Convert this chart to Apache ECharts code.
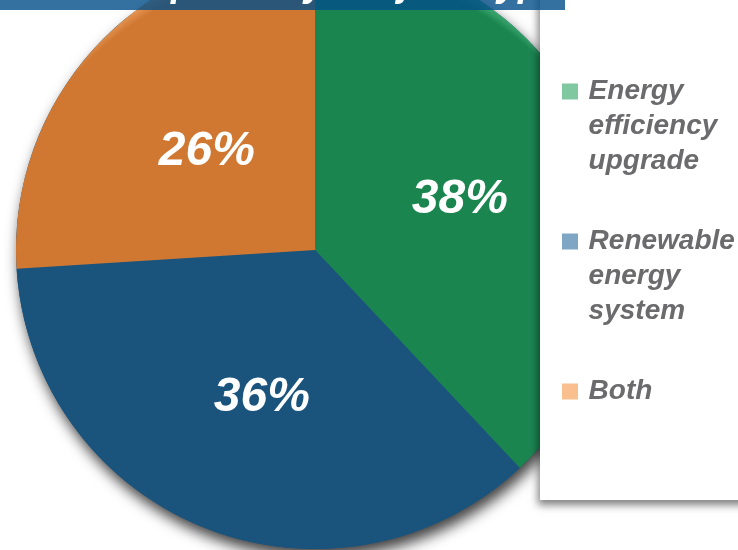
<!DOCTYPE html>
<html>
<head>
<meta charset="utf-8">
<script src="https://cdn.jsdelivr.net/npm/echarts@6/dist/echarts.min.js"></script>
<style>
  html, body { margin: 0; padding: 0; background: #fff; }
  #chart { width: 738px; height: 550px; }
</style>
</head>
<body>
<div id="chart"></div>
<script>
// data
const titleText = 'Grant Uptake by Project Type'
const categories = ['Energy efficiency upgrade', 'Renewable energy system', 'Both']
const legendLines = [['Energy', 'efficiency', 'upgrade'], ['Renewable', 'energy', 'system'], ['Both']]
const shares = [38, 36, 26]
const sliceColors = ['#1b8550', '#1a537c', '#d07832']
const rimColors = ['#58c288', '#1a537c', '#f7ab6c']
const legendColors = ['#80c8a0', '#7fa6c4', '#f9bf8f']

const chart = echarts.init(document.getElementById('chart'))

const cx = 315
const cy = 250
const R = 299

// 顶部高光（像 Office 的斜面效果）
const rim = (base, light) => ({
  type: 'radial', x: cx, y: cy + 40, r: R + 40, global: true,
  colorStops: [
    { offset: 0, color: base },
    { offset: 0.95, color: base },
    { offset: 1, color: light },
  ],
})

const legendFont = {
  color: '#6b6b6d',
  fontFamily: 'Liberation Sans, Arial, sans-serif',
  fontSize: 28,
  fontWeight: 'bold',
  fontStyle: 'italic',
  lineHeight: 35,
}

// blank lines in front keep the first text line level with the marker
const legendTops = [4, 154, 374]
const legends = categories.map((name, i) => {
  const lines = legendLines[i]
  const pad = lines.length > 1 ? ['', ''].concat(lines) : lines
  return {
    orient: 'vertical',
    left: 562,
    top: legendTops[i],
    padding: 0,
    z: 20,
    itemWidth: 16,
    itemHeight: 16,
    icon: 'rect',
    selectedMode: false,
    formatter: () => pad.map((s) => (s ? '\u2009' + s : '')).join('\n'),
    textStyle: legendFont,
    data: [{ name, itemStyle: { color: legendColors[i] } }],
  }
})

const option = {
  animation: false,
  legend: legends,
  graphic: [
    {
      type: 'rect',
      z: 10,
      shape: { x: 540, y: -30, width: 240, height: 530 },
      style: {
        fill: '#ffffff',
        shadowBlur: 8,
        shadowOffsetX: -2,
        shadowOffsetY: 5,
        shadowColor: 'rgba(0,0,0,0.5)',
      },
    },
    {
      type: 'rect',
      z: 30,
      shape: { x: 0, y: 0, width: 565, height: 10 },
      style: { fill: 'rgba(3,78,136,0.8)' },
    },
    {
      type: 'text',
      z: 31,
      style: {
        text: titleText,
        x: 297,
        y: -14,
        align: 'center',
        verticalAlign: 'middle',
        fill: '#ffffff',
        fontFamily: 'Liberation Sans, Arial, sans-serif',
        fontSize: 38,
        fontWeight: 'bold',
        fontStyle: 'italic',
      },
    },
  ],
  series: [
    {
      // drop shadow under the whole pie
      type: 'pie',
      z: 1,
      silent: true,
      center: [cx, cy],
      radius: R,
      label: { show: false },
      labelLine: { show: false },
      itemStyle: {
        color: '#1a537c',
        shadowBlur: 14,
        shadowOffsetX: 3,
        shadowOffsetY: 8,
        shadowColor: 'rgba(0,0,0,0.75)',
      },
      data: [{ value: shares.reduce((a, b) => a + b, 0), name: '' }],
    },
    {
      type: 'pie',
      z: 2,
      center: [cx, cy],
      radius: R,
      startAngle: 90,
      clockwise: true,
      emphasis: { disabled: true },
      label: {
        position: 'inside',
        offset: [3, 6],
        formatter: (p) => p.value + '%',
        color: '#ffffff',
        fontFamily: 'Liberation Sans, Arial, sans-serif',
        fontSize: 48,
        fontWeight: 'bold',
        fontStyle: 'italic',
      },
      labelLine: { show: false },
      data: categories.map((name, i) => ({
        name,
        value: shares[i],
        itemStyle: { color: rim(sliceColors[i], rimColors[i]) },
      })),
    },
  ],
}

chart.setOption(option)
</script>
</body>
</html>
